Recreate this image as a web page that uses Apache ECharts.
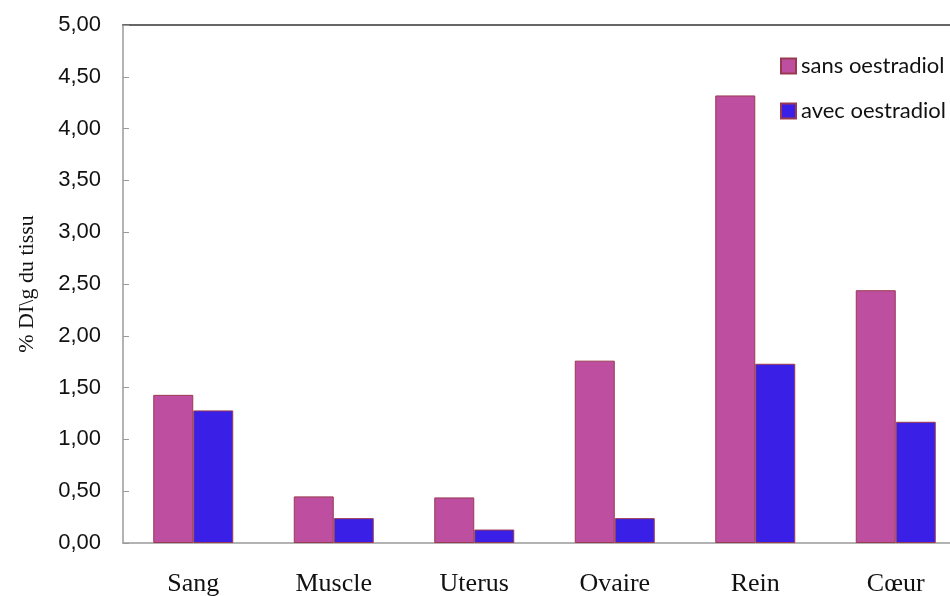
<!DOCTYPE html>
<html>
<head>
<meta charset="utf-8">
<script src="https://cdn.jsdelivr.net/npm/echarts@6/dist/echarts.min.js"></script>
<style>
html,body{margin:0;padding:0;background:#fff;}
#chart{width:950px;height:596px;}
</style>
</head>
<body>
<div id="chart"></div>
<script>
// Organes étudiés
const categories = ['Sang', 'Muscle', 'Uterus', 'Ovaire', 'Rein', 'Cœur'];
// % DI/g de tissu
const sansOestradiol = [1.43, 0.45, 0.44, 1.76, 4.32, 2.44];
const avecOestradiol = [1.28, 0.24, 0.13, 0.24, 1.73, 1.17];
const seriesNames = ['sans oestradiol', 'avec oestradiol'];

const chart = echarts.init(document.getElementById('chart'), null, {renderer: 'canvas'});

const barBorder = {borderColor: '#9a3a50', borderWidth: 1};

chart.setOption({
  animation: false,
  backgroundColor: '#ffffff',
  grid: {left: 123, right: -16, top: 25, bottom: 53, containLabel: false, outerBoundsMode: 'none'},
  legend: {
    orient: 'vertical',
    left: 775,
    top: 50,
    itemWidth: 15,
    itemHeight: 15,
    itemGap: 23,
    icon: 'rect',
    textStyle: {fontFamily: 'Lato, "Open Sans", sans-serif', fontSize: 22, color: '#111'},
    data: seriesNames
  },
  xAxis: [{
    type: 'category',
    data: categories,
    boundaryGap: true,
    axisLine: {lineStyle: {color: '#9a9a9a', width: 1.5}},
    axisTick: {inside: true, length: 8, lineStyle: {color: '#9a9a9a'}, alignWithLabel: false},
    axisLabel: {fontFamily: '"Liberation Serif", "Times New Roman", serif', fontSize: 26, color: '#111', margin: 28}
  }, {
    // trait supérieur du cadre
    type: 'category',
    position: 'top',
    data: categories,
    axisLine: {lineStyle: {color: '#666', width: 2}},
    axisTick: {show: false},
    axisLabel: {show: false}
  }],
  yAxis: {
    type: 'value',
    min: 0,
    max: 5,
    interval: 0.5,
    name: '% DI\\g du tissu',
    nameLocation: 'middle',
    nameGap: 85,
    nameRotate: 90,
    nameTextStyle: {fontFamily: '"Liberation Serif", "Times New Roman", serif', fontSize: 22, color: '#111'},
    axisLine: {show: true, lineStyle: {color: '#9a9a9a', width: 1.5}},
    axisTick: {show: true, inside: true, length: 6, lineStyle: {color: '#9a9a9a'}},
    splitLine: {show: false},
    axisLabel: {
      fontFamily: '"Liberation Sans", Arial, sans-serif',
      fontSize: 22,
      color: '#111',
      margin: 22,
      formatter: v => v.toFixed(2).replace('.', ',')
    }
  },
  series: [{
    name: seriesNames[0],
    type: 'bar',
    data: sansOestradiol,
    barWidth: 40,
    barGap: '0%',
    itemStyle: Object.assign({color: '#bd4ea0'}, barBorder)
  }, {
    name: seriesNames[1],
    type: 'bar',
    data: avecOestradiol,
    barWidth: 40,
    barGap: '0%',
    itemStyle: Object.assign({color: '#3a20e6'}, barBorder)
  }]
});
</script>
</body>
</html>
